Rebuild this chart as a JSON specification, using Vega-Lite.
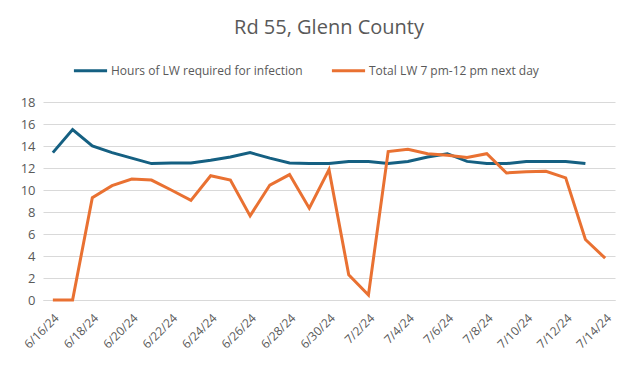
{
  "$schema": "https://vega.github.io/schema/vega-lite/v6.json",
  "width": 572,
  "height": 198,
  "autosize": {"type": "none"},
  "padding": {"left": 43, "top": 102, "right": 25, "bottom": 71},
  "background": "white",
  "title": {
    "text": "Rd 55, Glenn County",
    "anchor": "middle",
    "frame": "group",
    "offset": 14,
    "fontSize": 20,
    "fontWeight": "normal",
    "color": "#595959",
    "font": "Open Sans"
  },
  "config": {
    "font": "Open Sans",
    "view": {"stroke": null}
  },
  "data": {
    "values": [
      {"date": "6/16/24", "series": "Hours of LW required for infection", "value": 13.4},
      {"date": "6/17/24", "series": "Hours of LW required for infection", "value": 15.5},
      {"date": "6/18/24", "series": "Hours of LW required for infection", "value": 14.0},
      {"date": "6/19/24", "series": "Hours of LW required for infection", "value": 13.4},
      {"date": "6/20/24", "series": "Hours of LW required for infection", "value": 12.9},
      {"date": "6/21/24", "series": "Hours of LW required for infection", "value": 12.4},
      {"date": "6/22/24", "series": "Hours of LW required for infection", "value": 12.45},
      {"date": "6/23/24", "series": "Hours of LW required for infection", "value": 12.45},
      {"date": "6/24/24", "series": "Hours of LW required for infection", "value": 12.7},
      {"date": "6/25/24", "series": "Hours of LW required for infection", "value": 13.0},
      {"date": "6/26/24", "series": "Hours of LW required for infection", "value": 13.4},
      {"date": "6/27/24", "series": "Hours of LW required for infection", "value": 12.9},
      {"date": "6/28/24", "series": "Hours of LW required for infection", "value": 12.45},
      {"date": "6/29/24", "series": "Hours of LW required for infection", "value": 12.4},
      {"date": "6/30/24", "series": "Hours of LW required for infection", "value": 12.4},
      {"date": "7/1/24", "series": "Hours of LW required for infection", "value": 12.6},
      {"date": "7/2/24", "series": "Hours of LW required for infection", "value": 12.6},
      {"date": "7/3/24", "series": "Hours of LW required for infection", "value": 12.4},
      {"date": "7/4/24", "series": "Hours of LW required for infection", "value": 12.6},
      {"date": "7/5/24", "series": "Hours of LW required for infection", "value": 13.0},
      {"date": "7/6/24", "series": "Hours of LW required for infection", "value": 13.3},
      {"date": "7/7/24", "series": "Hours of LW required for infection", "value": 12.6},
      {"date": "7/8/24", "series": "Hours of LW required for infection", "value": 12.4},
      {"date": "7/9/24", "series": "Hours of LW required for infection", "value": 12.4},
      {"date": "7/10/24", "series": "Hours of LW required for infection", "value": 12.6},
      {"date": "7/11/24", "series": "Hours of LW required for infection", "value": 12.6},
      {"date": "7/12/24", "series": "Hours of LW required for infection", "value": 12.6},
      {"date": "7/13/24", "series": "Hours of LW required for infection", "value": 12.4},
      {"date": "6/16/24", "series": "Total LW 7 pm-12 pm next day", "value": 0},
      {"date": "6/17/24", "series": "Total LW 7 pm-12 pm next day", "value": 0},
      {"date": "6/18/24", "series": "Total LW 7 pm-12 pm next day", "value": 9.3},
      {"date": "6/19/24", "series": "Total LW 7 pm-12 pm next day", "value": 10.4},
      {"date": "6/20/24", "series": "Total LW 7 pm-12 pm next day", "value": 11.0},
      {"date": "6/21/24", "series": "Total LW 7 pm-12 pm next day", "value": 10.9},
      {"date": "6/22/24", "series": "Total LW 7 pm-12 pm next day", "value": 10.0},
      {"date": "6/23/24", "series": "Total LW 7 pm-12 pm next day", "value": 9.05},
      {"date": "6/24/24", "series": "Total LW 7 pm-12 pm next day", "value": 11.3},
      {"date": "6/25/24", "series": "Total LW 7 pm-12 pm next day", "value": 10.9},
      {"date": "6/26/24", "series": "Total LW 7 pm-12 pm next day", "value": 7.65},
      {"date": "6/27/24", "series": "Total LW 7 pm-12 pm next day", "value": 10.45},
      {"date": "6/28/24", "series": "Total LW 7 pm-12 pm next day", "value": 11.4},
      {"date": "6/29/24", "series": "Total LW 7 pm-12 pm next day", "value": 8.35},
      {"date": "6/30/24", "series": "Total LW 7 pm-12 pm next day", "value": 11.85},
      {"date": "7/1/24", "series": "Total LW 7 pm-12 pm next day", "value": 2.3},
      {"date": "7/2/24", "series": "Total LW 7 pm-12 pm next day", "value": 0.45},
      {"date": "7/3/24", "series": "Total LW 7 pm-12 pm next day", "value": 13.5},
      {"date": "7/4/24", "series": "Total LW 7 pm-12 pm next day", "value": 13.7},
      {"date": "7/5/24", "series": "Total LW 7 pm-12 pm next day", "value": 13.3},
      {"date": "7/6/24", "series": "Total LW 7 pm-12 pm next day", "value": 13.15},
      {"date": "7/7/24", "series": "Total LW 7 pm-12 pm next day", "value": 12.95},
      {"date": "7/8/24", "series": "Total LW 7 pm-12 pm next day", "value": 13.3},
      {"date": "7/9/24", "series": "Total LW 7 pm-12 pm next day", "value": 11.55},
      {"date": "7/10/24", "series": "Total LW 7 pm-12 pm next day", "value": 11.65},
      {"date": "7/11/24", "series": "Total LW 7 pm-12 pm next day", "value": 11.7},
      {"date": "7/12/24", "series": "Total LW 7 pm-12 pm next day", "value": 11.1},
      {"date": "7/13/24", "series": "Total LW 7 pm-12 pm next day", "value": 5.5},
      {"date": "7/14/24", "series": "Total LW 7 pm-12 pm next day", "value": 3.8}
    ]
  },
  "mark": {"type": "line", "strokeWidth": 3, "strokeJoin": "miter"},
  "encoding": {
    "x": {
      "field": "date",
      "type": "ordinal",
      "sort": null,
      "scale": {"type": "point", "padding": 0.5},
      "axis": {
        "title": null,
        "values": ["6/16/24", "6/18/24", "6/20/24", "6/22/24", "6/24/24", "6/26/24", "6/28/24", "6/30/24", "7/2/24", "7/4/24", "7/6/24", "7/8/24", "7/10/24", "7/12/24", "7/14/24"],
        "labelAngle": -45,
        "labelAlign": "right",
        "labelBaseline": "top",
        "labelFontSize": 12,
        "labelColor": "#595959",
        "labelPadding": 12,
        "ticks": false,
        "domainColor": "#D9D9D9",
        "domainWidth": 1,
        "grid": false
      }
    },
    "y": {
      "field": "value",
      "type": "quantitative",
      "scale": {"domain": [0, 18], "nice": false},
      "axis": {
        "title": null,
        "values": [0, 2, 4, 6, 8, 10, 12, 14, 16, 18],
        "labelFontSize": 13,
        "labelColor": "#595959",
        "labelPadding": 8,
        "ticks": false,
        "domain": false,
        "gridColor": "#D9D9D9",
        "gridWidth": 1
      }
    },
    "color": {
      "field": "series",
      "type": "nominal",
      "scale": {
        "domain": ["Hours of LW required for infection", "Total LW 7 pm-12 pm next day"],
        "range": ["#156082", "#E97132"]
      },
      "legend": {
        "title": null,
        "orient": "none",
        "direction": "horizontal",
        "legendX": 29,
        "legendY": -50,
        "symbolType": "stroke",
        "symbolSize": 1100,
        "symbolStrokeWidth": 3,
        "labelFontSize": 12,
        "labelColor": "#595959",
        "labelLimit": 400,
        "labelOffset": 2,
        "columnPadding": 22
      }
    }
  }
}
